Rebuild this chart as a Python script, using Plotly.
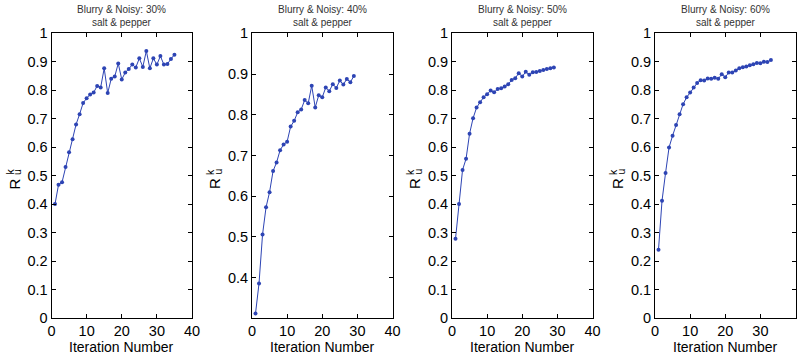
import plotly.graph_objects as go

W, H = 801, 355

titles = ["Blurry & Noisy: 30%", "Blurry & Noisy: 40%", "Blurry & Noisy: 50%", "Blurry & Noisy: 60%"]
subtitle = "salt & pepper"

s30 = [0.400, 0.468, 0.477, 0.530, 0.582, 0.628, 0.680, 0.716, 0.755, 0.772,
       0.785, 0.792, 0.815, 0.810, 0.877, 0.790, 0.840, 0.848, 0.894, 0.838,
       0.862, 0.875, 0.890, 0.880, 0.912, 0.882, 0.938, 0.877, 0.912, 0.890,
       0.920, 0.890, 0.892, 0.910, 0.925]
s40 = [0.312, 0.386, 0.506, 0.573, 0.610, 0.662, 0.683, 0.713, 0.727, 0.734,
       0.771, 0.785, 0.806, 0.813, 0.836, 0.828, 0.871, 0.818, 0.848, 0.843,
       0.867, 0.858, 0.875, 0.866, 0.884, 0.874, 0.888, 0.880, 0.895]
s50 = [0.278, 0.400, 0.520, 0.559, 0.647, 0.702, 0.739, 0.758, 0.775, 0.786,
       0.799, 0.793, 0.804, 0.807, 0.813, 0.821, 0.836, 0.842, 0.860, 0.848,
       0.865, 0.854, 0.863, 0.864, 0.868, 0.871, 0.875, 0.877, 0.880]
s60 = [0.240, 0.412, 0.509, 0.599, 0.640, 0.678, 0.716, 0.751, 0.775, 0.792,
       0.810, 0.825, 0.835, 0.834, 0.841, 0.840, 0.844, 0.840, 0.856, 0.846,
       0.862, 0.862, 0.869, 0.877, 0.881, 0.883, 0.888, 0.891, 0.896, 0.895,
       0.900, 0.899, 0.906]
series = [s30, s40, s50, s60]

x_ticks = [0, 10, 20, 30, 40]
y_ticks_full = [0, 0.1, 0.2, 0.3, 0.4, 0.5, 0.6, 0.7, 0.8, 0.9, 1]
y_ticks_40 = [0.4, 0.5, 0.6, 0.7, 0.8, 0.9, 1]
y_ranges = [[0, 1], [0.301, 1], [0, 1], [0, 1]]
y_tick_sets = [y_ticks_full, y_ticks_40, y_ticks_full, y_ticks_full]

# pixel layout
lefts = [51.5, 252.0, 452.0, 655.0]
width_px = 140.5
top_px, bot_px = 33.3, 318.0

def px_x(p):
    return p / W

def px_y(p):
    return (H - p) / H

def fmt(v):
    s = ("%.1f" % v)
    if s.endswith(".0"):
        s = s[:-2]
    return s

color = "#2d44b4"
font_family = "Arial"

fig = go.Figure()
layout = dict(
    width=W, height=H,
    margin=dict(l=0, r=0, t=0, b=0, autoexpand=False),
    paper_bgcolor="white", plot_bgcolor="white",
    showlegend=False,
    font=dict(family=font_family, color="black"),
)
annotations = []
for i, ys in enumerate(series):
    k = "" if i == 0 else str(i + 1)
    xs = list(range(1, len(ys) + 1))
    fig.add_trace(go.Scatter(
        x=xs, y=ys, mode="lines+markers",
        line=dict(color=color, width=1),
        marker=dict(color=color, size=4, symbol="circle"),
        xaxis="x" + k, yaxis="y" + k,
    ))
    l = lefts[i]
    layout["xaxis" + k] = dict(
        domain=[px_x(l), px_x(l + width_px)], anchor="y" + k,
        range=[0, 40], tickvals=x_ticks, ticktext=[str(t) for t in x_ticks],
        ticks="inside", ticklen=4, tickcolor="black", showline=True, linecolor="black",
        linewidth=1, mirror="ticks", showgrid=False, zeroline=False,
        tickfont=dict(size=14.5, family=font_family, color="black"),
        automargin=False,
    )
    yt = y_tick_sets[i]
    layout["yaxis" + k] = dict(
        domain=[px_y(bot_px), px_y(top_px)], anchor="x" + k,
        range=y_ranges[i], tickvals=yt, ticktext=[fmt(t) for t in yt],
        ticks="inside", ticklen=4, tickcolor="black", showline=True, linecolor="black",
        linewidth=1, mirror="ticks", showgrid=False, zeroline=False,
        tickfont=dict(size=14.5, family=font_family, color="black"),
        automargin=False,
    )
    cx = l + width_px / 2
    annotations.append(dict(
        text=titles[i] + "<br>" + subtitle, x=px_x(cx), y=px_y(30.5), xref="paper", yref="paper",
        xanchor="center", yanchor="bottom", showarrow=False,
        font=dict(size=10, family=font_family, color="#333333"),
    ))
    annotations.append(dict(
        text="Iteration Number", x=px_x(cx), y=px_y(346.5), xref="paper", yref="paper",
        xanchor="center", yanchor="middle", showarrow=False,
        font=dict(size=14, family=font_family, color="black"),
    ))
    # y-axis label R_u^k
    annotations.append(dict(
        text="R", x=px_x(l - 38), y=px_y(184), xref="paper", yref="paper",
        xanchor="center", yanchor="middle", showarrow=False, textangle=-90,
        font=dict(size=15, family=font_family, color="black"),
    ))
    annotations.append(dict(
        text="k", x=px_x(l - 42), y=px_y(172), xref="paper", yref="paper",
        xanchor="center", yanchor="middle", showarrow=False, textangle=-90,
        font=dict(size=10.5, family=font_family, color="black"),
    ))
    annotations.append(dict(
        text="u", x=px_x(l - 34.5), y=px_y(172), xref="paper", yref="paper",
        xanchor="center", yanchor="middle", showarrow=False, textangle=-90,
        font=dict(size=10.5, family=font_family, color="black"),
    ))
layout["annotations"] = annotations
fig.update_layout(**layout)
fig.write_html("out.html")
